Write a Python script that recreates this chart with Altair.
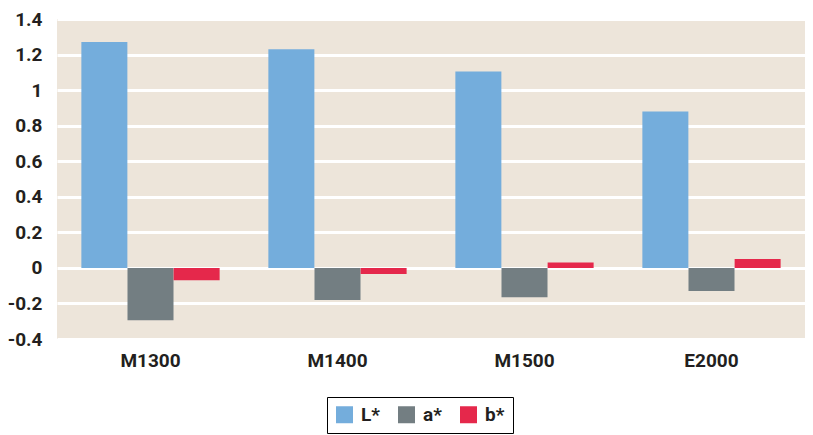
import altair as alt
import pandas as pd

categories = ["M1300", "M1400", "M1500", "E2000"]
components = ["L*", "a*", "b*"]
L_values = [1.27, 1.23, 1.105, 0.88]
a_values = [-0.295, -0.18, -0.165, -0.13]
b_values = [-0.07, -0.035, 0.03, 0.05]
colors = ["#74ADDC", "#737E82", "#E5284B"]
y_ticks = [-0.4, -0.2, 0, 0.2, 0.4, 0.6, 0.8, 1.0, 1.2, 1.4]

rows = []
for i, c in enumerate(categories):
    for comp, vals in zip(components, [L_values, a_values, b_values]):
        rows.append({"sample": c, "component": comp, "value": vals[i]})
df = pd.DataFrame(rows)

FONT = "Roboto"
FS = 19

chart = alt.Chart(df).mark_bar(size=46).encode(
    x=alt.X("sample:N", sort=categories, title=None,
            scale=alt.Scale(paddingInner=0.26, paddingOuter=0.13),
            axis=alt.Axis(labelAngle=0, labelFont=FONT, labelFontWeight="bold",
                          labelFontSize=FS, labelColor="#231F20", ticks=False,
                          domain=False, labelPadding=12)),
    xOffset=alt.XOffset("component:N", sort=components,
                        scale=alt.Scale(paddingInner=0, paddingOuter=0)),
    y=alt.Y("value:Q", title=None,
            scale=alt.Scale(domain=[-0.4, 1.4], nice=False, zero=False),
            axis=alt.Axis(values=y_ticks, labelFont=FONT, labelFontWeight="bold",
                          labelFontSize=FS, labelColor="#231F20", ticks=False,
                          tickSize=0, domain=False, labelPadding=15,
                          gridColor="white", gridWidth=3, gridOpacity=1,
                          labelExpr="replace(format(datum.value, '~g'), '\u2212', '-')")),
    color=alt.Color("component:N", sort=components,
                    scale=alt.Scale(domain=components, range=colors),
                    legend=alt.Legend(title=None, orient="none", legendX=270, legendY=378,
                                      direction="horizontal", symbolType="square",
                                      symbolSize=289, symbolStrokeWidth=0,
                                      symbolOpacity=1,
                                      labelFont=FONT, labelFontWeight="bold",
                                      labelFontSize=FS, labelColor="#231F20",
                                      labelOffset=7, columnPadding=17,
                                      strokeColor="black", fillColor="white",
                                      padding=8)),
).properties(
    width=748, height=320,
    autosize=alt.AutoSizeParams(type="none"),
    padding={"left": 57, "top": 19, "right": 8, "bottom": 96},
    background="white",
).configure_view(fill="#EDE5DA", stroke=None)

chart.save("out.html", embed_options={"renderer": "svg", "actions": False})
